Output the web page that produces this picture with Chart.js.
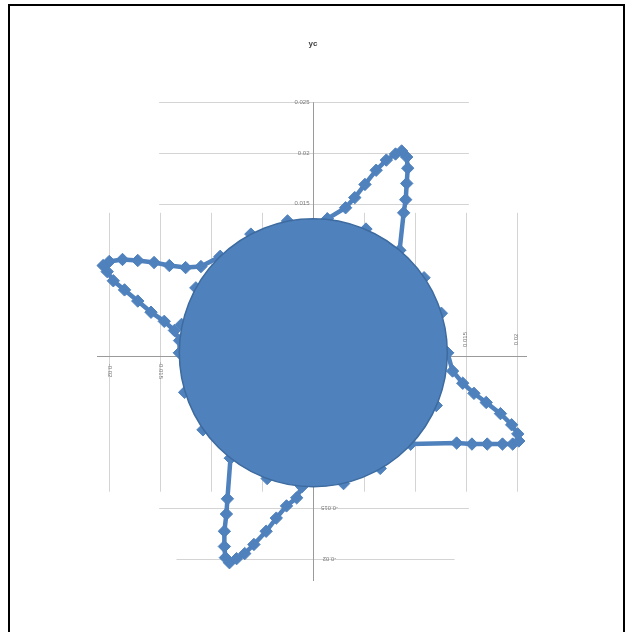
<!DOCTYPE html>
<html>
<head>
<meta charset="utf-8">
<script src="https://cdn.jsdelivr.net/npm/chart.js@4.4.0/dist/chart.umd.min.js"></script>
<style>
  html, body { margin: 0; padding: 0; background: #fff; overflow: hidden; }
  body { width: 626px; height: 632px; position: relative; }
  #frame { position: absolute; left: 8px; top: 4px; width: 613px; height: 700px; border: 2px solid #000; border-bottom: none; }
  #chart { position: absolute; left: 0; top: 0; width: 626px; height: 632px; }
</style>
</head>
<body>
<div id="frame"></div>
<canvas id="chart" width="626" height="632"></canvas>
<script>
// --- data ---
const chartTitle = 'yc';

// big disk in the middle (one point)
const diskX = [0.00003];
const diskY = [0.0003];

// markers sitting round the disk edge
const ringX = [0.0132, 0.0126, 0.0109, 0.0085, 0.0052, 0.0014, -0.0025, -0.0061, -0.0091, -0.0115, -0.0129,
               -0.0131, -0.0126, -0.0108, -0.0081, -0.0045, -0.0011, 0.0030, 0.0066, 0.0096, 0.0121];
const ringY = [0.0003, 0.0042, 0.0077, 0.0104, 0.0125, 0.0135, 0.0133, 0.0120, 0.0098, 0.0067, 0.0031,
               0.0003, -0.0036, -0.0073, -0.0101, -0.0121, -0.0129, -0.0126, -0.0111, -0.0087, -0.0049];

// the four star arms
const armTopX = [0.0085, 0.0089, 0.0091, 0.0092, 0.0093, 0.0092, 0.0087, 0.0081, 0.0072, 0.0062, 0.0051, 0.0041, 0.0032, 0.0014];
const armTopY = [0.0104, 0.0141, 0.0154, 0.0170, 0.0185, 0.0196, 0.0202, 0.0199, 0.0193, 0.0183, 0.0169, 0.0156, 0.0146, 0.0135];

const armLeftX = [-0.0091, -0.0110, -0.0125, -0.0141, -0.0156, -0.0172, -0.0187, -0.0200, -0.0206, -0.0202, -0.0196,
                  -0.0185, -0.0172, -0.0159, -0.0146, -0.0136, -0.0131, -0.0131];
const armLeftY = [0.0098, 0.0088, 0.0087, 0.0089, 0.0092, 0.0094, 0.0095, 0.0093, 0.0089, 0.0083, 0.0074,
                  0.0065, 0.0054, 0.0043, 0.0034, 0.0025, 0.0015, 0.0003];

const armBottomX = [-0.0081, -0.0084, -0.0085, -0.0087, -0.0087, -0.0086, -0.0082, -0.0075, -0.0067, -0.0058, -0.0046,
                    -0.0036, -0.0026, -0.0016, -0.0011];
const armBottomY = [-0.0101, -0.0141, -0.0156, -0.0173, -0.0188, -0.0199, -0.0204, -0.0200, -0.0195, -0.0186, -0.0173,
                    -0.0160, -0.0148, -0.0140, -0.0129];

const armRightX = [0.0096, 0.0141, 0.0156, 0.0171, 0.0186, 0.0196, 0.0202, 0.0201, 0.0195, 0.0184, 0.0170, 0.0158,
                   0.0147, 0.0137, 0.0132];
const armRightY = [-0.0087, -0.0086, -0.0087, -0.0087, -0.0087, -0.0087, -0.0084, -0.0077, -0.0068, -0.0057, -0.0046,
                   -0.0037, -0.0027, -0.0015, 0.0003];

// grid and tick labels
const xGridValues = [-0.02, -0.015, -0.01, -0.005, 0.005, 0.01, 0.015, 0.02];
const yGridValues = [0.025, 0.02, 0.015, -0.015, -0.02];
const xTickValues = [-0.02, -0.015, 0.015, 0.02];
const xTickLabels = ['-0.02', '-0.015', '0.015', '0.02'];
const yTickValues = [0.025, 0.02, 0.015, -0.015, -0.02];
const yTickLabels = ['0.025', '0.02', '0.015', '-0.015', '-0.02'];

const toPoints = (xs, ys) => xs.map((v, i) => ({ x: v, y: ys[i] }));

const blue = '#4f81bd';

// gridlines in this chart only cover part of the plot, so draw them by hand
const axisDecor = {
    id: 'axisDecor',
    beforeDatasetsDraw(chart) {
        const { ctx, chartArea } = chart;
        const x = chart.scales.x;
        const y = chart.scales.y;
        const x0 = Math.round(x.getPixelForValue(0)) + 0.5;
        const y0 = Math.round(y.getPixelForValue(0)) + 0.5;
        ctx.save();
        ctx.lineWidth = 1;
        ctx.strokeStyle = '#d4d4d4';

        xGridValues.forEach(v => {
            const px = Math.round(x.getPixelForValue(v)) + 0.5;
            ctx.beginPath();
            ctx.moveTo(px, y.getPixelForValue(0.0141));
            ctx.lineTo(px, y.getPixelForValue(-0.0134));
            ctx.stroke();
        });

        const hLeft = [-0.0151, -0.0151, -0.0151, -0.0151, -0.0134];
        const hRight = [0.0153, 0.0153, 0.0153, 0.0153, 0.0139];
        yGridValues.forEach((v, i) => {
            const py = Math.round(y.getPixelForValue(v)) + 0.5;
            ctx.beginPath();
            ctx.moveTo(x.getPixelForValue(hLeft[i]), py);
            ctx.lineTo(x.getPixelForValue(hRight[i]), py);
            ctx.stroke();
        });

        // axis lines
        ctx.strokeStyle = '#9a9a9a';
        ctx.beginPath();
        ctx.moveTo(chartArea.left + 1, y0);
        ctx.lineTo(chartArea.right - 3, y0);
        ctx.moveTo(x0, y.getPixelForValue(0.025));
        ctx.lineTo(x0, chartArea.bottom - 3);
        ctx.stroke();

        // tick labels
        ctx.fillStyle = '#7a7a7a';
        ctx.font = '6px "Liberation Sans", Arial, sans-serif';
        ctx.textBaseline = 'middle';
        yTickValues.forEach((v, i) => {
            const py = y.getPixelForValue(v);
            ctx.save();
            if (v > 0) {
                ctx.textAlign = 'right';
                ctx.fillText(yTickLabels[i], x0 - 4, py);
            } else {
                ctx.translate(x0 + 16, py);
                ctx.rotate(Math.PI);
                ctx.textAlign = 'center';
                ctx.fillText(yTickLabels[i], 0, 0);
            }
            ctx.restore();
        });
        xTickValues.forEach((v, i) => {
            const px = x.getPixelForValue(v);
            ctx.save();
            if (v < 0) {
                ctx.translate(px, y0 + 14);
                ctx.rotate(Math.PI / 2);
            } else {
                ctx.translate(px, y0 - 17);
                ctx.rotate(-Math.PI / 2);
            }
            ctx.textAlign = 'center';
            ctx.fillText(xTickLabels[i], 0, 0);
            ctx.restore();
        });
        ctx.restore();
    }
};

const armStyle = {
    showLine: true,
    borderColor: blue,
    backgroundColor: blue,
    borderWidth: 4.5,
    pointStyle: 'rectRot',
    pointRadius: 6.2,
    pointBorderWidth: 1,
    pointBorderColor: blue,
    pointBackgroundColor: blue,
    tension: 0,
    clip: false
};

const ctx = document.getElementById('chart').getContext('2d');
const chart = new Chart(ctx, {
    type: 'scatter',
    data: {
        datasets: [
            {
                label: 'disk',
                data: toPoints(diskX, diskY),
                pointRadius: 134,
                pointBackgroundColor: blue,
                pointBorderColor: '#3d6b9f',
                pointBorderWidth: 1.5,
                clip: false
            },
            { label: 'top', data: toPoints(armTopX, armTopY), ...armStyle },
            { label: 'left', data: toPoints(armLeftX, armLeftY), ...armStyle },
            { label: 'bottom', data: toPoints(armBottomX, armBottomY), ...armStyle },
            { label: 'right', data: toPoints(armRightX, armRightY), ...armStyle },
            {
                label: 'ring',
                data: toPoints(ringX, ringY),
                showLine: false,
                pointStyle: 'rectRot',
                pointRadius: 6.2,
                pointBackgroundColor: blue,
                pointBorderColor: blue,
                clip: false
            }
        ]
    },
    options: {
        responsive: false,
        animation: false,
        events: [],
        layout: {
            autoPadding: false,
            padding: { left: 96, right: 96, top: 0, bottom: 48 }
        },
        plugins: {
            legend: { display: false },
            tooltip: { enabled: false },
            title: {
                display: true,
                text: chartTitle,
                color: '#404040',
                font: { family: '"Liberation Sans", Arial, sans-serif', size: 8, weight: 'bold' },
                padding: { top: 39, bottom: 33.4 }
            }
        },
        scales: {
            x: { type: 'linear', min: -0.0213, max: 0.0213, display: false },
            y: { type: 'linear', min: -0.0225, max: 0.027, display: false }
        }
    },
    plugins: [axisDecor]
});
</script>
</body>
</html>
